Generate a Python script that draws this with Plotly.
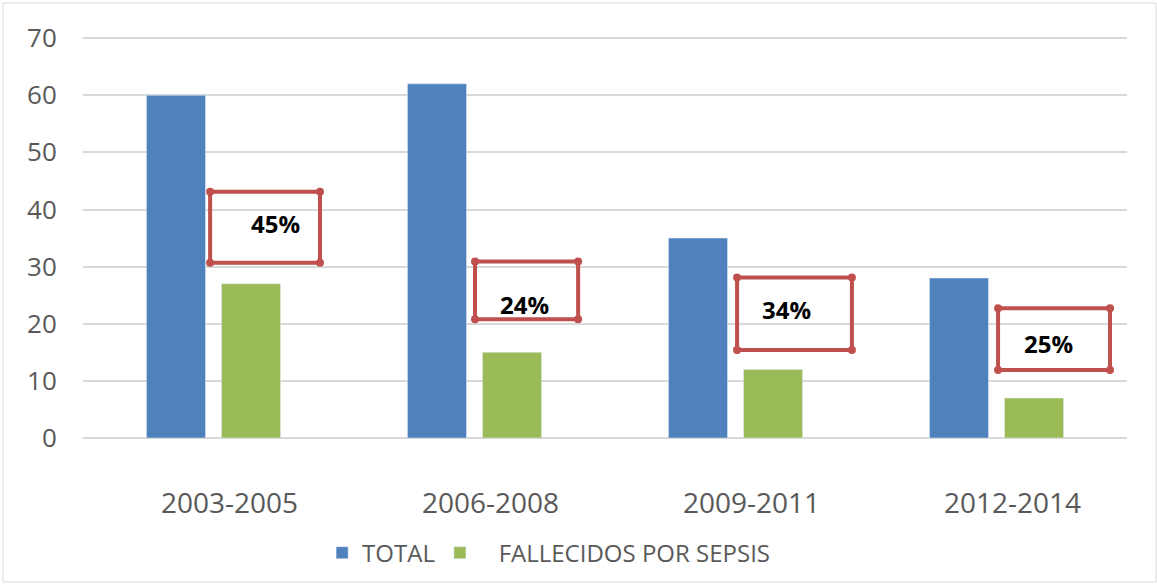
import plotly.graph_objects as go

periods = ["2003-2005", "2006-2008", "2009-2011", "2012-2014"]
total = [60, 62, 35, 28]
sepsis = [27, 15, 12, 7]
pct_labels = ["45%", "24%", "34%", "25%"]

BLUE = "#4F81BD"
GREEN = "#9BBB59"
RED = "#C0504D"
GREY = "#595959"
FONT = "Open Sans"

# callout boxes (x offset from category centre, y in data units)
box_x0 = [-0.013, 0.002, 0.006, 0.006]
box_x1 = [0.408, 0.397, 0.446, 0.435]
box_y0 = [30.7, 20.8, 15.4, 11.9]
box_y1 = [43.1, 30.9, 28.1, 22.7]
label_dx = [0.236, 0.190, 0.197, 0.201]
label_y = [37.5, 23.4, 22.5, 16.6]

fig = go.Figure()
fig.add_bar(x=periods, y=total, name="TOTAL", marker_color=BLUE)
fig.add_bar(x=periods, y=sepsis, name="\u00a0\u00a0\u00a0FALLECIDOS POR SEPSIS",
            marker_color=GREEN)

for i, lab in enumerate(pct_labels):
    x0, x1 = i + box_x0[i], i + box_x1[i]
    y0, y1 = box_y0[i], box_y1[i]
    fig.add_shape(type="rect", xref="x", yref="y", x0=x0, x1=x1, y0=y0, y1=y1,
                  line=dict(color=RED, width=4), fillcolor="rgba(0,0,0,0)")
    # little round caps on the corners
    for px_, py_ in [(x0, y0), (x1, y0), (x0, y1), (x1, y1)]:
        fig.add_shape(type="circle", xref="x", yref="y",
                      xsizemode="pixel", ysizemode="pixel",
                      xanchor=px_, yanchor=py_, x0=-4, x1=4, y0=-4, y1=4,
                      fillcolor=RED, line=dict(width=0))
    fig.add_annotation(x=i + label_dx[i], y=label_y[i], text="<b>%s</b>" % lab,
                       showarrow=False, font=dict(family=FONT, size=24, color="black"))

# outer chart border
fig.add_shape(type="rect", xref="paper", yref="paper",
              x0=-80 / 1044, x1=1073 / 1044,
              y0=-144 / 401, y1=1 + 34 / 401,
              line=dict(color="#D9D9D9", width=1))

fig.update_layout(
    width=1157, height=585,
    margin=dict(l=83, r=30, t=37, b=147, autoexpand=False),
    paper_bgcolor="white", plot_bgcolor="white",
    barmode="group", bargap=0.425, bargroupgap=0.213,
    font=dict(family=FONT, color=GREY),
    showlegend=True,
    legend=dict(orientation="h", x=0.446, xanchor="center", y=-0.287, yanchor="middle",
                font=dict(family=FONT, size=24, color=GREY), itemwidth=30,
                traceorder="normal"),
)
fig.update_xaxes(type="category", range=[-0.5, 3.5], showgrid=False, automargin=False,
                 showline=False, ticks="outside", ticklen=40, ticklabelshift=16,
                 tickcolor="rgba(0,0,0,0)", tickfont=dict(size=28, color=GREY))
fig.update_yaxes(range=[0, 70.2], dtick=10, showgrid=True, gridcolor="#D9D9D9",
                 gridwidth=1.5, zeroline=True, zerolinecolor="#D9D9D9", automargin=False,
                 zerolinewidth=1.5, showline=False, ticks="outside", ticklen=20,
                 tickcolor="rgba(0,0,0,0)", tickfont=dict(size=26, color=GREY))

fig.write_html("out.html", config={"displayModeBar": False},
               post_script="document.body.style.margin='0';")
